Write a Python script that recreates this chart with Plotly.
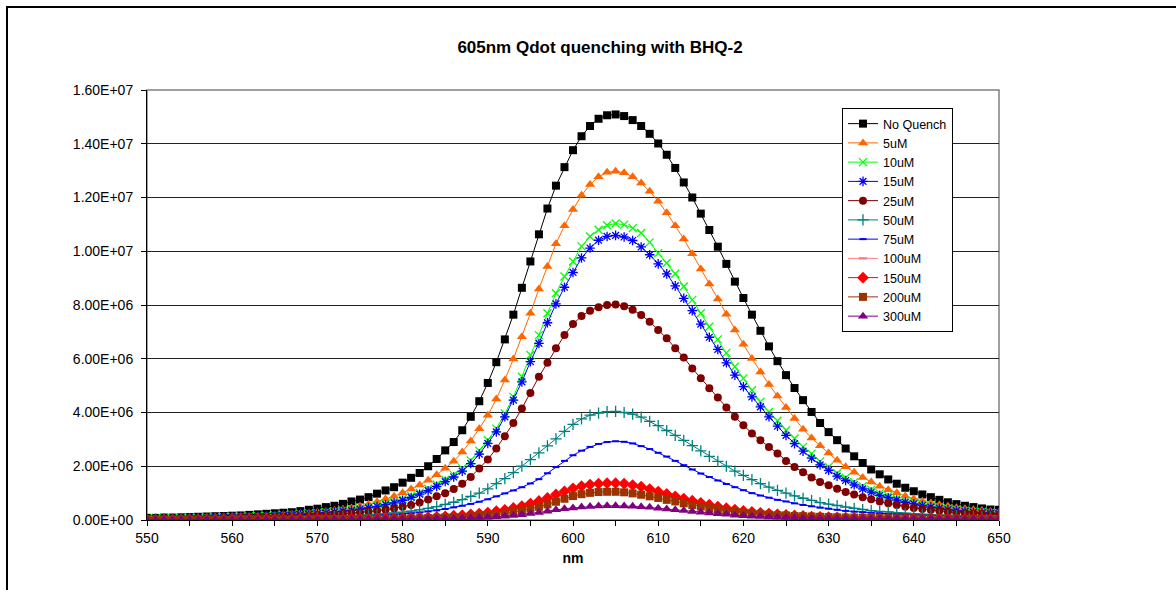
import plotly.graph_objects as go

# ---------------- data (values in units of 1e6 counts) ----------------
wavelength_nm = list(range(550, 651))

no_quench = [
    0.08, 0.08, 0.09, 0.09, 0.10, 0.11, 0.12, 0.13, 0.14, 0.15,
    0.16, 0.17, 0.19, 0.21, 0.23, 0.25, 0.27, 0.29, 0.33, 0.38,
    0.42, 0.48, 0.53, 0.60, 0.69, 0.76, 0.85, 0.98, 1.10, 1.22,
    1.39, 1.57, 1.75, 2.00, 2.27, 2.59, 2.90, 3.34, 3.84, 4.42,
    5.10, 5.87, 6.72, 7.64, 8.64, 9.62, 10.63, 11.59, 12.44, 13.13,
    13.76, 14.28, 14.66, 14.93, 15.06, 15.09, 15.03, 14.88, 14.66, 14.37,
    14.01, 13.59, 13.10, 12.56, 12.00, 11.40, 10.79, 10.17, 9.53, 8.87,
    8.26, 7.64, 7.04, 6.46, 5.91, 5.39, 4.91, 4.46, 4.02, 3.61,
    3.27, 2.97, 2.66, 2.37, 2.12, 1.88, 1.70, 1.51, 1.35, 1.20,
    1.07, 0.95, 0.85, 0.75, 0.66, 0.59, 0.53, 0.48, 0.43, 0.39,
    0.38]

q_5uM = [
    0.06, 0.06, 0.07, 0.07, 0.08, 0.08, 0.09, 0.10, 0.10, 0.11,
    0.12, 0.13, 0.14, 0.15, 0.16, 0.18, 0.20, 0.22, 0.24, 0.26,
    0.29, 0.32, 0.35, 0.40, 0.45, 0.51, 0.59, 0.68, 0.78, 0.88,
    1.01, 1.15, 1.30, 1.48, 1.68, 1.93, 2.19, 2.53, 2.94, 3.40,
    3.90, 4.50, 5.21, 5.99, 6.82, 7.69, 8.60, 9.43, 10.28, 10.95,
    11.55, 12.08, 12.48, 12.77, 12.94, 12.98, 12.92, 12.77, 12.54, 12.23,
    11.86, 11.43, 10.95, 10.46, 9.91, 9.34, 8.78, 8.22, 7.66, 7.07,
    6.54, 6.01, 5.51, 5.04, 4.61, 4.19, 3.78, 3.38, 3.05, 2.76,
    2.49, 2.22, 1.98, 1.78, 1.58, 1.41, 1.26, 1.13, 1.01, 0.89,
    0.79, 0.70, 0.63, 0.57, 0.51, 0.46, 0.42, 0.38, 0.35, 0.32,
    0.29]

q_10uM = [
    0.05, 0.06, 0.06, 0.07, 0.07, 0.08, 0.08, 0.09, 0.09, 0.10,
    0.11, 0.12, 0.13, 0.14, 0.15, 0.17, 0.18, 0.20, 0.22, 0.24,
    0.26, 0.29, 0.32, 0.35, 0.39, 0.43, 0.48, 0.54, 0.61, 0.69,
    0.78, 0.89, 1.02, 1.16, 1.32, 1.50, 1.68, 1.92, 2.22, 2.58,
    2.97, 3.40, 3.96, 4.58, 5.33, 6.14, 6.88, 7.69, 8.44, 9.06,
    9.62, 10.18, 10.55, 10.80, 10.97, 11.03, 10.99, 10.86, 10.68, 10.33,
    9.93, 9.56, 9.16, 8.69, 8.19, 7.69, 7.19, 6.72, 6.22, 5.70,
    5.27, 4.83, 4.40, 4.02, 3.69, 3.34, 3.03, 2.72, 2.47, 2.18,
    1.97, 1.74, 1.57, 1.41, 1.26, 1.13, 1.00, 0.90, 0.80, 0.72,
    0.65, 0.59, 0.53, 0.48, 0.43, 0.39, 0.35, 0.32, 0.30, 0.27,
    0.26]

q_15uM = [
    0.05, 0.05, 0.06, 0.06, 0.07, 0.07, 0.08, 0.08, 0.09, 0.09,
    0.10, 0.11, 0.12, 0.13, 0.14, 0.16, 0.17, 0.19, 0.21, 0.23,
    0.25, 0.27, 0.30, 0.33, 0.36, 0.40, 0.45, 0.50, 0.57, 0.64,
    0.73, 0.84, 0.96, 1.09, 1.25, 1.43, 1.60, 1.82, 2.10, 2.45,
    2.85, 3.28, 3.84, 4.46, 5.14, 5.89, 6.57, 7.34, 8.04, 8.66,
    9.21, 9.75, 10.12, 10.41, 10.55, 10.59, 10.53, 10.40, 10.16, 9.87,
    9.53, 9.16, 8.71, 8.25, 7.79, 7.29, 6.80, 6.35, 5.85, 5.39,
    4.96, 4.58, 4.21, 3.84, 3.49, 3.15, 2.84, 2.56, 2.30, 2.05,
    1.85, 1.63, 1.47, 1.31, 1.16, 1.04, 0.92, 0.83, 0.74, 0.66,
    0.60, 0.54, 0.48, 0.44, 0.39, 0.35, 0.32, 0.29, 0.27, 0.25,
    0.24]

q_25uM = [
    0.03, 0.03, 0.04, 0.04, 0.04, 0.05, 0.05, 0.06, 0.06, 0.07,
    0.07, 0.08, 0.09, 0.10, 0.10, 0.11, 0.12, 0.13, 0.15, 0.16,
    0.18, 0.19, 0.21, 0.23, 0.25, 0.28, 0.31, 0.34, 0.38, 0.43,
    0.49, 0.56, 0.65, 0.76, 0.88, 1.00, 1.15, 1.35, 1.60, 1.92,
    2.25, 2.66, 3.12, 3.61, 4.15, 4.73, 5.33, 5.85, 6.39, 6.88,
    7.29, 7.59, 7.79, 7.92, 8.00, 8.02, 7.95, 7.82, 7.63, 7.38,
    7.07, 6.76, 6.39, 6.05, 5.64, 5.27, 4.90, 4.56, 4.19, 3.84,
    3.53, 3.22, 2.97, 2.72, 2.47, 2.20, 1.97, 1.78, 1.58, 1.41,
    1.29, 1.16, 1.04, 0.95, 0.85, 0.77, 0.69, 0.62, 0.56, 0.50,
    0.45, 0.41, 0.37, 0.34, 0.31, 0.28, 0.26, 0.24, 0.22, 0.21,
    0.20]

q_50uM = [
    0.02, 0.02, 0.02, 0.03, 0.03, 0.03, 0.03, 0.04, 0.04, 0.04,
    0.05, 0.05, 0.05, 0.06, 0.06, 0.07, 0.07, 0.08, 0.09, 0.09,
    0.10, 0.11, 0.13, 0.14, 0.15, 0.17, 0.19, 0.21, 0.23, 0.26,
    0.29, 0.33, 0.38, 0.43, 0.50, 0.58, 0.66, 0.76, 0.88, 1.00,
    1.16, 1.35, 1.54, 1.76, 2.00, 2.25, 2.50, 2.76, 3.02, 3.30,
    3.56, 3.76, 3.90, 3.98, 4.03, 4.04, 4.00, 3.94, 3.83, 3.67,
    3.51, 3.33, 3.15, 2.96, 2.77, 2.57, 2.37, 2.18, 2.00, 1.82,
    1.66, 1.50, 1.35, 1.22, 1.10, 1.00, 0.90, 0.81, 0.73, 0.65,
    0.59, 0.54, 0.48, 0.43, 0.39, 0.35, 0.32, 0.30, 0.27, 0.25,
    0.23, 0.21, 0.20, 0.18, 0.17, 0.16, 0.15, 0.14, 0.13, 0.12,
    0.12]

q_75uM = [
    0.01, 0.01, 0.02, 0.02, 0.02, 0.02, 0.02, 0.03, 0.03, 0.03,
    0.03, 0.04, 0.04, 0.04, 0.05, 0.05, 0.06, 0.06, 0.07, 0.07,
    0.08, 0.09, 0.10, 0.11, 0.12, 0.13, 0.15, 0.16, 0.18, 0.20,
    0.22, 0.25, 0.28, 0.32, 0.36, 0.41, 0.47, 0.53, 0.60, 0.68,
    0.77, 0.88, 0.99, 1.10, 1.22, 1.36, 1.52, 1.74, 1.97, 2.20,
    2.41, 2.58, 2.72, 2.83, 2.90, 2.93, 2.91, 2.85, 2.75, 2.64,
    2.50, 2.36, 2.20, 2.04, 1.88, 1.73, 1.60, 1.47, 1.34, 1.22,
    1.11, 1.00, 0.91, 0.83, 0.75, 0.69, 0.62, 0.56, 0.51, 0.46,
    0.42, 0.38, 0.34, 0.31, 0.29, 0.27, 0.25, 0.23, 0.21, 0.20,
    0.18, 0.17, 0.16, 0.15, 0.14, 0.13, 0.12, 0.12, 0.11, 0.11,
    0.10]

q_100uM = [
    0.01, 0.01, 0.01, 0.01, 0.01, 0.01, 0.01, 0.01, 0.01, 0.01,
    0.02, 0.02, 0.02, 0.02, 0.02, 0.02, 0.02, 0.02, 0.02, 0.02,
    0.03, 0.03, 0.03, 0.03, 0.04, 0.04, 0.05, 0.05, 0.06, 0.06,
    0.07, 0.08, 0.09, 0.10, 0.12, 0.14, 0.16, 0.18, 0.21, 0.24,
    0.28, 0.33, 0.38, 0.45, 0.52, 0.61, 0.71, 0.82, 0.95, 1.07,
    1.18, 1.26, 1.32, 1.35, 1.37, 1.37, 1.35, 1.30, 1.24, 1.15,
    1.06, 0.97, 0.88, 0.80, 0.72, 0.64, 0.57, 0.50, 0.44, 0.39,
    0.34, 0.30, 0.27, 0.24, 0.21, 0.19, 0.17, 0.15, 0.13, 0.12,
    0.11, 0.10, 0.09, 0.08, 0.07, 0.07, 0.06, 0.06, 0.05, 0.05,
    0.05, 0.04, 0.04, 0.04, 0.04, 0.04, 0.03, 0.03, 0.03, 0.03,
    0.03]

q_150uM = [
    0.01, 0.01, 0.01, 0.01, 0.01, 0.01, 0.01, 0.01, 0.01, 0.01,
    0.02, 0.02, 0.02, 0.02, 0.02, 0.02, 0.02, 0.02, 0.02, 0.02,
    0.03, 0.03, 0.03, 0.03, 0.04, 0.04, 0.05, 0.05, 0.06, 0.06,
    0.07, 0.08, 0.09, 0.10, 0.12, 0.14, 0.16, 0.18, 0.21, 0.24,
    0.28, 0.33, 0.38, 0.45, 0.52, 0.61, 0.71, 0.82, 0.95, 1.07,
    1.18, 1.26, 1.32, 1.35, 1.37, 1.37, 1.35, 1.30, 1.24, 1.15,
    1.06, 0.97, 0.88, 0.80, 0.72, 0.64, 0.57, 0.50, 0.44, 0.39,
    0.34, 0.30, 0.27, 0.24, 0.21, 0.19, 0.17, 0.15, 0.13, 0.12,
    0.11, 0.10, 0.09, 0.08, 0.07, 0.07, 0.06, 0.06, 0.05, 0.05,
    0.05, 0.04, 0.04, 0.04, 0.04, 0.04, 0.03, 0.03, 0.03, 0.03,
    0.03]

q_200uM = [
    0.01, 0.01, 0.01, 0.01, 0.01, 0.01, 0.01, 0.01, 0.01, 0.01,
    0.02, 0.02, 0.02, 0.02, 0.02, 0.02, 0.02, 0.02, 0.02, 0.02,
    0.03, 0.03, 0.03, 0.03, 0.03, 0.03, 0.04, 0.04, 0.04, 0.05,
    0.05, 0.06, 0.06, 0.07, 0.08, 0.09, 0.10, 0.11, 0.13, 0.15,
    0.17, 0.20, 0.24, 0.29, 0.35, 0.42, 0.49, 0.58, 0.68, 0.79,
    0.89, 0.96, 1.01, 1.04, 1.05, 1.05, 1.03, 0.99, 0.94, 0.88,
    0.82, 0.75, 0.69, 0.62, 0.56, 0.50, 0.44, 0.39, 0.34, 0.30,
    0.27, 0.24, 0.22, 0.20, 0.18, 0.17, 0.15, 0.14, 0.13, 0.12,
    0.11, 0.10, 0.09, 0.09, 0.08, 0.08, 0.07, 0.07, 0.06, 0.06,
    0.06, 0.05, 0.05, 0.05, 0.05, 0.05, 0.04, 0.04, 0.04, 0.04,
    0.04]

q_300uM = [
    0.01, 0.01, 0.01, 0.01, 0.01, 0.01, 0.01, 0.01, 0.01, 0.01,
    0.01, 0.01, 0.01, 0.01, 0.01, 0.02, 0.02, 0.02, 0.02, 0.02,
    0.02, 0.02, 0.02, 0.02, 0.03, 0.03, 0.03, 0.03, 0.03, 0.03,
    0.04, 0.04, 0.04, 0.04, 0.05, 0.05, 0.06, 0.07, 0.08, 0.09,
    0.10, 0.12, 0.14, 0.17, 0.20, 0.24, 0.28, 0.33, 0.38, 0.42,
    0.45, 0.48, 0.50, 0.52, 0.53, 0.53, 0.52, 0.51, 0.49, 0.47,
    0.44, 0.41, 0.38, 0.35, 0.32, 0.29, 0.26, 0.23, 0.21, 0.18,
    0.16, 0.14, 0.13, 0.11, 0.10, 0.09, 0.08, 0.07, 0.07, 0.06,
    0.06, 0.05, 0.05, 0.05, 0.05, 0.05, 0.04, 0.04, 0.04, 0.04,
    0.04, 0.04, 0.04, 0.04, 0.04, 0.04, 0.03, 0.03, 0.03, 0.03,
    0.03]

series_names = ["No Quench", "5uM", "10uM", "15uM", "25uM", "50uM",
                "75uM", "100uM", "150uM", "200uM", "300uM"]
series_values = [no_quench, q_5uM, q_10uM, q_15uM, q_25uM, q_50uM,
                 q_75uM, q_100uM, q_150uM, q_200uM, q_300uM]

y_tick_vals = [0, 2, 4, 6, 8, 10, 12, 14, 16]
y_tick_text = ["0.00E+00", "2.00E+06", "4.00E+06", "6.00E+06", "8.00E+06",
               "1.00E+07", "1.20E+07", "1.40E+07", "1.60E+07"]
x_tick_vals = [550, 560, 570, 580, 590, 600, 610, 620, 630, 640, 650]
x_tick_text = ["550", "560", "570", "580", "590", "600", "610", "620",
               "630", "640", "650"]

# ---------------- styles ----------------
styles = [
    dict(color="#000000", symbol="square", size=8),
    dict(color="#FF6600", symbol="triangle-up", size=9),
    dict(color="#00FF00", symbol="x-thin", size=8, lw=1.3),
    dict(color="#0000FF", symbol="asterisk", size=8, lw=1.3),
    dict(color="#800000", symbol="circle", size=8),
    dict(color="#008080", symbol="cross-thin", size=8, lw=1.3),
    dict(color="#0000FF", symbol="line-ew", size=5, lw=2),
    dict(color="#FF8080", symbol="line-ew", size=6, lw=2.5),
    dict(color="#FF0000", symbol="diamond", size=9),
    dict(color="#993300", symbol="square", size=8),
    dict(color="#800080", symbol="triangle-up", size=9),
]

FONT = "Liberation Sans, Arial, sans-serif"

fig = go.Figure()
for name, vals, st in zip(series_names, series_values, styles):
    assert len(vals) == len(wavelength_nm), name
    marker = dict(symbol=st["symbol"], size=st["size"], color=st["color"])
    if "lw" in st:
        marker["line"] = dict(color=st["color"], width=st["lw"])
    else:
        marker["line"] = dict(width=0)
    fig.add_trace(go.Scatter(
        x=wavelength_nm, y=vals, name=name, mode="lines+markers",
        line=dict(color=st["color"], width=1),
        marker=marker,
    ))

W, H = 1176, 590
L, R, T, B = 147, 177, 90, 70
pw, ph = W - L - R, H - T - B


def px_x(p):
    return (p - L) / pw


def px_y(p):
    return (H - B - p) / ph


fig.update_layout(
    width=W, height=H, autosize=False,
    margin=dict(l=L, r=R, t=T, b=B, pad=0),
    paper_bgcolor="white", plot_bgcolor="white",
    font=dict(family=FONT, size=14, color="black"),
    title=dict(text="<b>605nm Qdot quenching with BHQ-2</b>",
               x=600 / W, xanchor="center", xref="container",
               y=1 - 47 / H, yanchor="middle", yref="container",
               font=dict(family=FONT, size=17, color="black")),
    showlegend=True,
    legend=dict(x=px_x(842), y=px_y(108), xanchor="left", yanchor="top",
                bgcolor="white", bordercolor="black", borderwidth=1,
                font=dict(family=FONT, size=12.5, color="black"),
                itemwidth=30, tracegroupgap=0),
    xaxis=dict(range=[550, 650], tickmode="array", tickvals=x_tick_vals,
               ticktext=x_tick_text, ticks="outside", ticklen=5,
               tickcolor="black", tickwidth=1,
               minor=dict(dtick=5, tick0=550, ticks="outside", ticklen=5,
                          tickcolor="black", tickwidth=1, showgrid=False),
               showgrid=False, zeroline=False, showline=True,
               linecolor="black", linewidth=1,
               tickfont=dict(family=FONT, size=14),
               title=dict(text="<b>nm</b>", standoff=8,
                          font=dict(family=FONT, size=14))),
    yaxis=dict(range=[0, 16], tickmode="array", tickvals=y_tick_vals,
               ticktext=y_tick_text, ticks="outside", ticklen=5,
               tickcolor="black", tickwidth=1, ticklabelstandoff=5,
               showgrid=True, gridcolor="#222222", gridwidth=1,
               zeroline=False, showline=True, linecolor="black", linewidth=1,
               tickfont=dict(family=FONT, size=14)),
    shapes=[
        dict(type="rect", xref="paper", yref="paper", x0=0, x1=1, y0=0, y1=1,
             line=dict(color="#808080", width=1.5), layer="below"),
        dict(type="rect", xref="paper", yref="paper",
             x0=px_x(7), x1=px_x(1220), y0=px_y(620), y1=px_y(7),
             line=dict(color="black", width=2), layer="below"),
    ],
)

fig.write_html("out.html")
